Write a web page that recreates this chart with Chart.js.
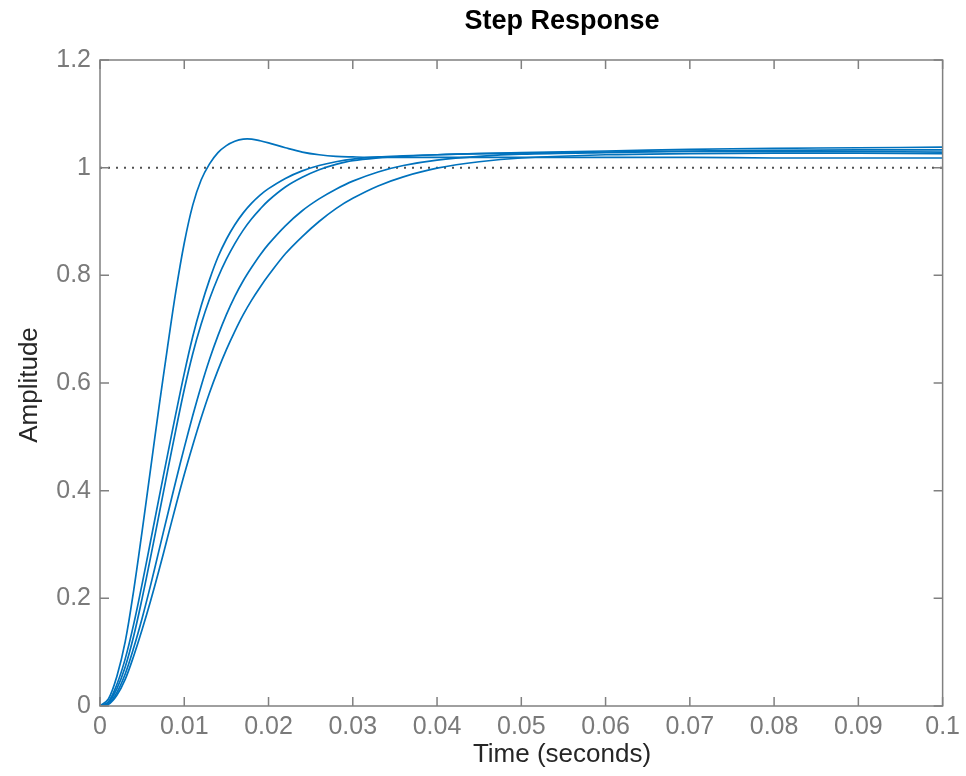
<!DOCTYPE html>
<html lang="en">
<head>
<meta charset="UTF-8">
<title>Step Response</title>
<script src="https://cdn.jsdelivr.net/npm/chart.js"></script>
<style>
  html, body { margin: 0; padding: 0; background: #fff; }
  #wrap { width: 966px; height: 776px; position: relative; }
</style>
</head>
<body>
<div id="wrap"><canvas id="myChart"></canvas></div>
<script>
// time samples (seconds) and the five step responses
const time = [0, 0.001, 0.002, 0.003, 0.004, 0.005, 0.006, 0.007, 0.008, 0.009,
  0.010, 0.011, 0.012, 0.013, 0.014, 0.015, 0.016, 0.017, 0.018, 0.019,
  0.020, 0.022, 0.024, 0.026, 0.028, 0.030, 0.033, 0.036, 0.040, 0.045,
  0.050, 0.060, 0.070, 0.080, 0.090, 0.100];

const resp1 = [0, 0.013, 0.055, 0.12, 0.215, 0.325, 0.44, 0.555, 0.665, 0.77,
  0.86, 0.93, 0.977, 1.007, 1.028, 1.041, 1.049, 1.053, 1.053, 1.05,
  1.046, 1.037, 1.029, 1.024, 1.021, 1.02, 1.019, 1.019, 1.019, 1.019,
  1.019, 1.019, 1.019, 1.018, 1.018, 1.018];
const resp2 = [0, 0.008, 0.04, 0.088, 0.152, 0.227, 0.306, 0.386, 0.465, 0.543,
  0.618, 0.686, 0.743, 0.792, 0.834, 0.867, 0.894, 0.916, 0.934, 0.949,
  0.961, 0.98, 0.994, 1.004, 1.011, 1.016, 1.02, 1.022, 1.024, 1.026,
  1.028, 1.031, 1.034, 1.036, 1.037, 1.038];
const resp3 = [0, 0.006, 0.032, 0.073, 0.13, 0.2, 0.276, 0.355, 0.435, 0.513,
  0.588, 0.654, 0.709, 0.756, 0.796, 0.83, 0.859, 0.884, 0.905, 0.923,
  0.939, 0.964, 0.982, 0.996, 1.006, 1.013, 1.018, 1.021, 1.024, 1.026,
  1.027, 1.029, 1.031, 1.032, 1.033, 1.033];
const resp4 = [0, 0.004, 0.025, 0.06, 0.108, 0.163, 0.224, 0.289, 0.354, 0.418,
  0.48, 0.539, 0.594, 0.644, 0.688, 0.727, 0.761, 0.79, 0.815, 0.838,
  0.858, 0.892, 0.92, 0.942, 0.96, 0.975, 0.992, 1.004, 1.014, 1.021,
  1.025, 1.028, 1.03, 1.03, 1.03, 1.029];
const resp5 = [0, 0.003, 0.02, 0.05, 0.093, 0.142, 0.195, 0.252, 0.312, 0.372,
  0.43, 0.484, 0.535, 0.582, 0.624, 0.662, 0.696, 0.727, 0.754, 0.778,
  0.8, 0.84, 0.872, 0.9, 0.924, 0.943, 0.966, 0.983, 0.999, 1.011,
  1.018, 1.024, 1.026, 1.027, 1.027, 1.026];

const finalValue = [1, 1];
const finalTime = [0, 0.1];

const xTicks = [0, 0.01, 0.02, 0.03, 0.04, 0.05, 0.06, 0.07, 0.08, 0.09, 0.1];
const xTickLabels = ['0', '0.01', '0.02', '0.03', '0.04', '0.05', '0.06', '0.07', '0.08', '0.09', '0.1'];
const yTicks = [0, 0.2, 0.4, 0.6, 0.8, 1, 1.2];
const yTickLabels = ['0', '0.2', '0.4', '0.6', '0.8', '1', '1.2'];

const FONT = '"Liberation Sans", Arial, Helvetica, sans-serif';
const blue = '#0072BD';
const axisGray = '#808080';

function pts(xs, ys) {
  return xs.map((x, i) => ({ x: x, y: ys[i] }));
}

function curve(ys) {
  return {
    data: pts(time, ys),
    borderColor: blue,
    borderWidth: 1.7,
    pointRadius: 0,
    fill: false,
    tension: 0.35
  };
}

// box, inward ticks, title and axis labels (MATLAB look)
const matlabFrame = {
  id: 'matlabFrame',
  afterDatasetsDraw(chart) {
    const ctx = chart.ctx;
    const a = chart.chartArea;
    const xs = chart.scales.x, ys = chart.scales.y;
    const tl = 9;
    ctx.save();
    ctx.strokeStyle = axisGray;
    ctx.lineWidth = 1.5;
    ctx.strokeRect(a.left, a.top, a.right - a.left, a.bottom - a.top);
    ctx.beginPath();
    xTicks.forEach(v => {
      const px = xs.getPixelForValue(v);
      ctx.moveTo(px, a.bottom); ctx.lineTo(px, a.bottom - tl);
      ctx.moveTo(px, a.top); ctx.lineTo(px, a.top + tl);
    });
    yTicks.forEach(v => {
      const py = ys.getPixelForValue(v);
      ctx.moveTo(a.left, py); ctx.lineTo(a.left + tl, py);
      ctx.moveTo(a.right, py); ctx.lineTo(a.right - tl, py);
    });
    ctx.stroke();
    ctx.restore();
  },
  afterDraw(chart) {
    const ctx = chart.ctx;
    ctx.save();
    ctx.textAlign = 'center';
    ctx.textBaseline = 'middle';
    ctx.fillStyle = '#000';
    ctx.font = 'bold 27px ' + FONT;
    ctx.fillText('Step Response', 562, 22);
    ctx.fillStyle = '#262626';
    ctx.font = '26px ' + FONT;
    ctx.fillText('Time (seconds)', 562, 755);
    ctx.translate(30, 385);
    ctx.rotate(-Math.PI / 2);
    ctx.fillText('Amplitude', 0, 0);
    ctx.restore();
  }
};

const ctx = document.getElementById('myChart').getContext('2d');
const myChart = new Chart(ctx, {
  type: 'line',
  data: {
    datasets: [
      curve(resp1), curve(resp2), curve(resp3), curve(resp4), curve(resp5),
      {
        data: pts(finalTime, finalValue),
        borderColor: '#505050',
        borderWidth: 2,
        borderDash: [2, 6],
        pointRadius: 0,
        fill: false
      }
    ]
  },
  options: {
    responsive: true,
    maintainAspectRatio: false,
    animation: false,
    events: [],
    layout: { padding: { left: 0, right: 23, top: 60, bottom: 0 } },
    plugins: {
      legend: { display: false },
      title: { display: false },
      tooltip: { enabled: false }
    },
    scales: {
      x: {
        type: 'linear',
        min: 0,
        max: 0.1,
        grid: { display: false, drawTicks: false },
        border: { display: false },
        afterBuildTicks: s => { s.ticks = xTicks.map(v => ({ value: v })); },
        afterFit: s => { s.height = 70; },
        ticks: {
          autoSkip: false,
          maxRotation: 0,
          padding: 6,
          color: '#7a7a7a',
          font: { family: FONT, size: 25 },
          callback: (v, i) => xTickLabels[i]
        }
      },
      y: {
        min: 0,
        max: 1.2,
        grid: { display: false, drawTicks: false },
        border: { display: false },
        afterBuildTicks: s => { s.ticks = yTicks.map(v => ({ value: v })); },
        afterFit: s => { s.width = 100; },
        ticks: {
          padding: 9,
          color: '#7a7a7a',
          font: { family: FONT, size: 25 },
          callback: (v, i) => yTickLabels[i]
        }
      }
    }
  },
  plugins: [matlabFrame]
});
</script>
</body>
</html>
